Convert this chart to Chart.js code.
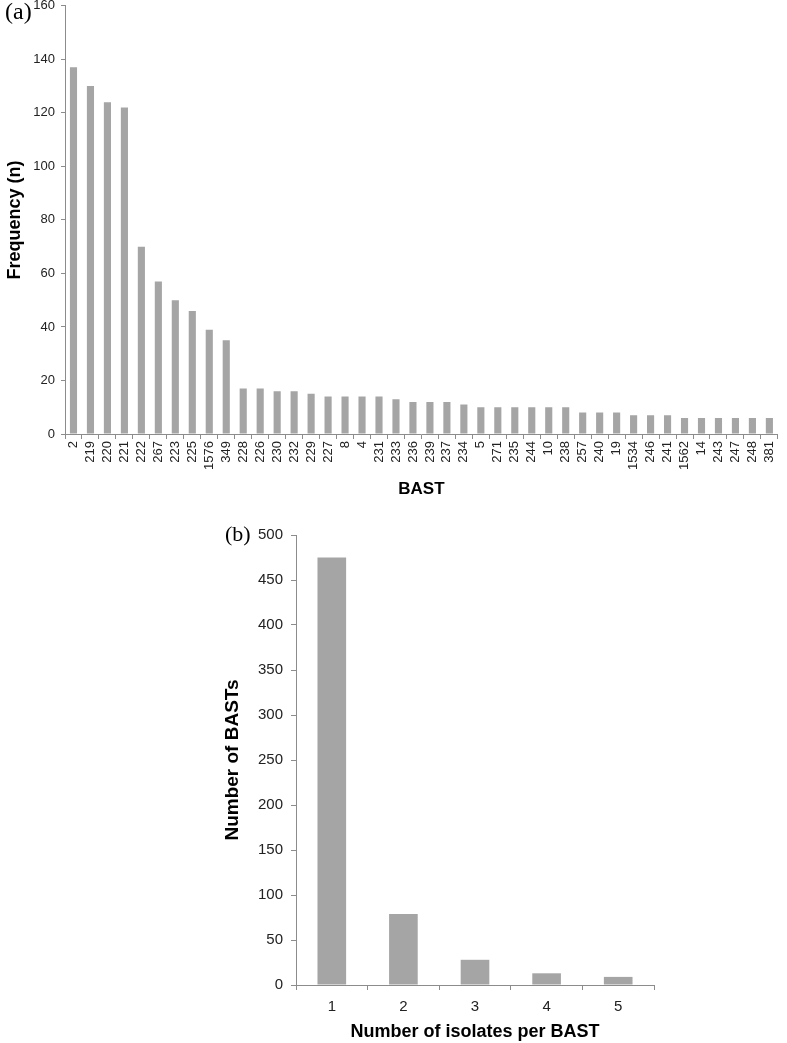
<!DOCTYPE html>
<html><head><meta charset="utf-8">
<script src="https://cdn.jsdelivr.net/npm/chart.js@4.4.0/dist/chart.umd.min.js"></script>
<style>
html,body{margin:0;padding:0;background:#fff;width:787px;height:1043px;overflow:hidden;position:relative;}
#wa{position:absolute;left:0;top:-8px;width:787px;height:508px;}
#wb{position:absolute;left:215px;top:500px;width:572px;height:543px;}
.lab{position:absolute;font-family:"Liberation Serif","Times New Roman",serif;color:#000;}
</style></head><body>
<div id="wa"><canvas id="ca"></canvas></div>
<div id="wb"><canvas id="cb"></canvas></div>
<div class="lab" style="left:5px;top:-2px;font-size:24px;">(a)</div>
<div class="lab" style="left:225px;top:521px;font-size:22px;">(b)</div>
<script>
const bastLabels = ["2","219","220","221","222","267","223","225","1576","349","228","226","230","232","229","227","8","4","231","233","236","239","237","234","5","271","235","244","10","238","257","240","19","1534","246","241","1562","14","243","247","248","381"];
const bastFreq = [137,130,124,122,70,57,50,46,39,35,17,17,16,16,15,14,14,14,14,13,12,12,12,11,10,10,10,10,10,10,8,8,8,7,7,7,6,6,6,6,6,6];
const isolateLabels = ["1","2","3","4","5"];
const bastCounts = [475,79,28,13,9];
const yTicksA = [0,20,40,60,80,100,120,140,160];
const yTicksB = [0,50,100,150,200,250,300,350,400,450,500];

const sans = "'Liberation Sans', Arial, sans-serif";
const barColor = "#a5a5a5";
const axisColor = "#8c8c8c";

function fixWidth(w){ return function(s){ s.width = w; }; }
function fixHeight(h){ return function(s){ s.height = h; }; }

new Chart(document.getElementById('ca'), {
  type: 'bar',
  data: { labels: bastLabels, datasets: [{ data: bastFreq, backgroundColor: barColor, barPercentage: 0.42, categoryPercentage: 1.0 }] },
  options: {
    responsive: true, maintainAspectRatio: false, animation: false,
    layout: { padding: { top: 8, right: 1, left: 0, bottom: 0 } },
    plugins: { legend: { display: false }, tooltip: { enabled: false } },
    scales: {
      x: {
        grid: { offset: true, drawOnChartArea: false, drawTicks: true, tickLength: 5, color: axisColor },
        border: { color: axisColor },
        ticks: { autoSkip: false, maxRotation: 90, minRotation: 90, color: "#222", font: { family: sans, size: 13 }, padding: 2 },
        title: { display: true, text: "BAST", color: "#000", font: { family: sans, size: 17, weight: "bold" }, padding: { top: 10, bottom: 0 } },
        afterFit: fixHeight(66)
      },
      y: {
        min: 0, max: 160,
        afterBuildTicks: function(s){ s.ticks = yTicksA.map(v => ({ value: v })); },
        grid: { drawOnChartArea: false, drawTicks: true, tickLength: 4, color: axisColor },
        border: { color: axisColor },
        ticks: { color: "#222", font: { family: sans, size: 13 }, padding: 6 },
        title: { display: true, text: "Frequency (n)", color: "#000", font: { family: sans, size: 18, weight: "bold" }, padding: { top: 4, bottom: 0 } },
        afterFit: fixWidth(65)
      }
    }
  }
});

new Chart(document.getElementById('cb'), {
  type: 'bar',
  data: { labels: isolateLabels, datasets: [{ data: bastCounts, backgroundColor: barColor, barPercentage: 0.4, categoryPercentage: 1.0 }] },
  options: {
    responsive: true, maintainAspectRatio: false, animation: false,
    layout: { padding: { top: 35, right: 133, left: 0, bottom: 0 } },
    plugins: { legend: { display: false }, tooltip: { enabled: false } },
    scales: {
      x: {
        grid: { offset: true, drawOnChartArea: false, drawTicks: true, tickLength: 5, color: axisColor },
        border: { color: axisColor },
        ticks: { color: "#222", font: { family: sans, size: 15 }, padding: 8 },
        title: { display: true, text: "Number of isolates per BAST", color: "#000", font: { family: sans, size: 18, weight: "bold" }, padding: { top: 6, bottom: 0 } },
        afterFit: fixHeight(58)
      },
      y: {
        min: 0, max: 500,
        afterBuildTicks: function(s){ s.ticks = yTicksB.map(v => ({ value: v })); },
        grid: { drawOnChartArea: false, drawTicks: true, tickLength: 5, color: axisColor },
        border: { color: axisColor },
        ticks: { color: "#222", font: { family: sans, size: 15 }, padding: 8 },
        title: { display: true, text: "Number of BASTs", color: "#000", font: { family: sans, size: 19, weight: "bold" }, padding: { top: 6, bottom: 0 } },
        afterFit: fixWidth(81)
      }
    }
  }
});
</script>
</body></html>
